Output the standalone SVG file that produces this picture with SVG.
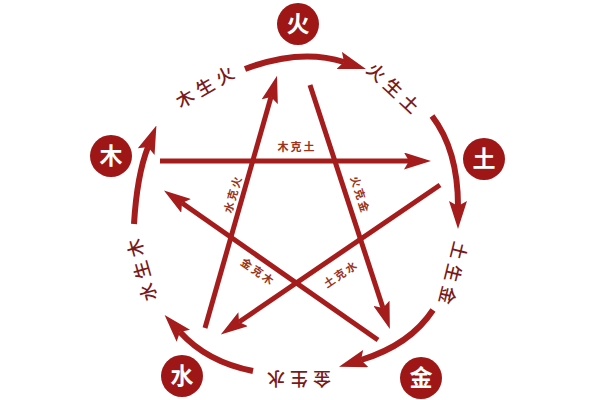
<svg xmlns="http://www.w3.org/2000/svg" width="600" height="400" viewBox="0 0 600 400">
<defs>
<style>
.bg{fill:#ffffff}
.node circle{fill:#9e1616}
.node text{fill:#ffffff;font-family:"Noto Sans CJK SC","Noto Sans",sans-serif;font-size:23px;font-weight:700;text-anchor:middle}
.arc{fill:none;stroke:#a51c1c;stroke-width:6;marker-end:url(#ah)}
.ke{fill:none;stroke:#a51c1c;stroke-width:5;marker-end:url(#ah2)}
.sheng{fill:#7a1a1a;font-family:"Noto Sans CJK SC","Noto Sans",sans-serif;font-size:18px;font-weight:500;letter-spacing:5px}
.kl{fill:#9a3420;font-family:"Noto Sans CJK SC","Noto Sans",sans-serif;font-size:11px;font-weight:700;letter-spacing:2px}
</style>
<marker id="ah" markerUnits="userSpaceOnUse" markerWidth="28" markerHeight="18" viewBox="0 0 28 18" refX="5" refY="9" orient="auto">
<path d="M0,0 L28,9 L0,18 L5,9 z" fill="#a51c1c"/>
</marker>
<marker id="ah2" markerUnits="userSpaceOnUse" markerWidth="27" markerHeight="17" viewBox="0 0 27 17" refX="5" refY="8.5" orient="auto">
<path d="M0,0 L27,8.5 L0,17 L5,8.5 z" fill="#a51c1c"/>
</marker>
</defs>
<rect class="bg" x="0" y="0" width="600" height="400"/>
<g id="connectors">
<path class="arc" d="M245,69 Q300,48 344,62"/>
<path class="arc" d="M432,116 Q458,150 458,206"/>
<path class="arc" d="M433,310 Q410,345 361,360"/>
<path class="arc" d="M253,371 Q207,362 180,332"/>
<path class="arc" d="M134,224 Q137,175 148,147"/>
<path class="ke" d="M160,161 L409,161"/>
<path class="ke" d="M310,85 L383,308"/>
<path class="ke" d="M378,340 L182,203"/>
<path class="ke" d="M440,185 L239,322"/>
<path class="ke" d="M205,328 L271,97"/>
</g>
<g id="labels">
<text class="sheng" transform="translate(205,87) rotate(-30)" x="-32" y="6.5">木生火</text>
<text class="sheng" transform="translate(393,88) rotate(43)" x="-32" y="6.5">火生土</text>
<text class="sheng" transform="translate(453,273) rotate(104)" x="-32" y="6.5">土生金</text>
<text class="sheng" transform="translate(299,378) rotate(180)" x="-32" y="6.5">金生水</text>
<text class="sheng" transform="translate(142,270) rotate(-106)" x="-32" y="6.5">水生木</text>
<text class="kl" transform="translate(297,147)" x="-19.5" y="4">木克土</text>
<text class="kl" transform="translate(360,195) rotate(72)" x="-19.5" y="4">火克金</text>
<text class="kl" transform="translate(233,194) rotate(-74)" x="-19.5" y="4">水克火</text>
<text class="kl" transform="translate(258,272) rotate(35)" x="-19.5" y="4">金克木</text>
<text class="kl" transform="translate(341,274) rotate(-34)" x="-19.5" y="4">土克水</text>
</g>
<g id="node-huo" class="node"><circle cx="298" cy="24" r="21"/><text x="298" y="32">火</text></g>
<g id="node-mu" class="node"><circle cx="111" cy="156" r="21"/><text x="111" y="164">木</text></g>
<g id="node-tu" class="node"><circle cx="484" cy="159" r="21"/><text x="484" y="167">土</text></g>
<g id="node-jin" class="node"><circle cx="421" cy="378" r="21"/><text x="421" y="386">金</text></g>
<g id="node-shui" class="node"><circle cx="182" cy="376" r="21"/><text x="182" y="384">水</text></g>
</svg>
